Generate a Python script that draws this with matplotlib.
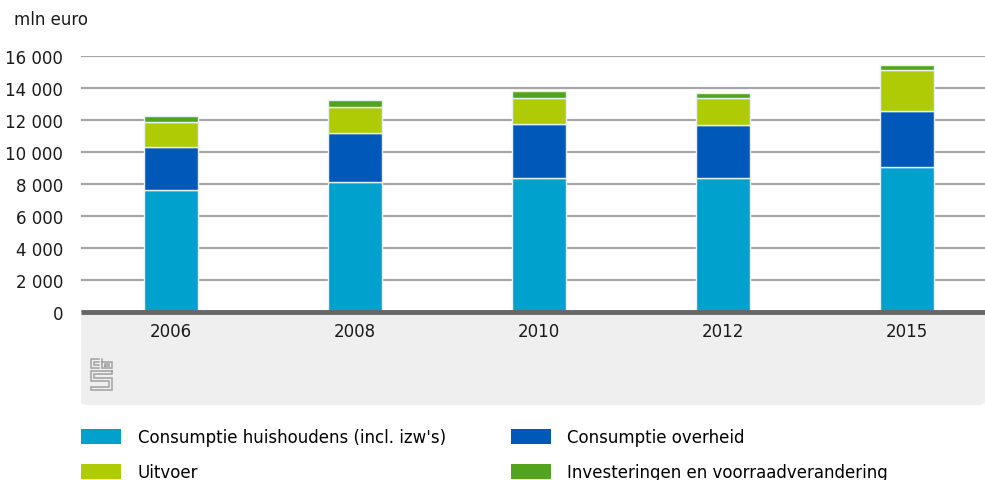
import numpy as np
import matplotlib
matplotlib.use("Agg")
import matplotlib.pyplot as plt
from matplotlib.patches import Patch, FancyBboxPatch
from matplotlib.ticker import FuncFormatter

years = ["2006", "2008", "2010", "2012", "2015"]
huishoudens = [7620, 8100, 8400, 8380, 9080]
overheid = [2710, 3070, 3330, 3290, 3480]
uitvoer = [1570, 1640, 1640, 1700, 2560]
investeringen = [370, 460, 460, 340, 340]

series = [
    ("Consumptie huishoudens (incl. izw's)", huishoudens, "#00a1cd"),
    ("Consumptie overheid", overheid, "#0058b8"),
    ("Uitvoer", uitvoer, "#afcb05"),
    ("Investeringen en voorraadverandering", investeringen, "#53a31d"),
]

W, H = 985, 481
plt.rcParams["font.family"] = ["DejaVu Sans"]

fig = plt.figure(figsize=(W / 100, H / 100), dpi=100)

# grey panel below the axis
panel = FancyBboxPatch((81 / W, (H - 406) / H), (W - 81) / W, 93 / H,
                       boxstyle="round,pad=0,rounding_size=0.008",
                       transform=fig.transFigure, facecolor="#efefef",
                       edgecolor="none", zorder=-5)
fig.patches.append(panel)

ax = fig.add_axes([81 / W, (H - 313) / H, (W - 81) / W, 256 / H])
ax.set_facecolor("none")

x = np.arange(len(years))
bottom = np.zeros(len(years))
for label, vals, color in series:
    ax.bar(x, vals, width=0.29, bottom=bottom, color=color,
           edgecolor="#e6f2f7", linewidth=1, label=label, zorder=3)
    bottom += np.array(vals)

ax.set_xlim(-0.489, 4.424)
ax.set_ylim(0, 16000)
ax.set_yticks(np.arange(0, 16001, 2000))
ax.yaxis.set_major_formatter(FuncFormatter(lambda v, p: f"{int(v):,}".replace(",", " ")))
ax.grid(axis="y", color="#a6a6a6", linewidth=1.6, zorder=1)
ax.set_axisbelow(True)
for s in ["top", "right", "left"]:
    ax.spines[s].set_visible(False)
ax.spines["bottom"].set_color("#666666")
ax.spines["bottom"].set_linewidth(3.5)
ax.spines["bottom"].set_capstyle("butt")
ax.spines["bottom"].set_zorder(4)

ax.set_xticks(x)
ax.set_xticklabels(years)
ax.tick_params(axis="x", length=0, pad=7, labelsize=12, colors="#1a1a1a")
ax.tick_params(axis="y", length=0, pad=13, labelsize=12, colors="#1a1a1a")

fig.text(14 / W, 1 - 20 / H, "mln euro", fontsize=12, va="center", color="#1a1a1a")

# simple cbs logo outline
logo = fig.add_axes([90 / W, (H - 393) / H, 24 / W, 34 / H])
logo.set_xlim(0, 24)
logo.set_ylim(0, 34)
logo.axis("off")
lc = "#a0a0a0"
kw = dict(color=lc, lw=1.1, solid_joinstyle="miter")
logo.plot([9, 1, 1, 9], [33, 33, 24, 24], **kw)
logo.plot([9, 4, 4, 9], [30, 30, 27, 27], **kw)
logo.plot([12, 12, 22, 22, 12], [33, 24, 24, 30, 30], **kw)
logo.plot([15, 19, 19, 15, 15], [26.5, 26.5, 28, 28, 26.5], **kw)
logo.plot([22, 1, 1, 19, 19, 1, 1, 22, 22, 4, 4, 22, 22], [21, 21, 11, 11, 5, 5, 2, 2, 14, 14, 18, 18, 21], **kw)

handles = [Patch(facecolor=c, edgecolor="none") for _, _, c in series]
labels = [l for l, _, _ in series]
order = [0, 2, 1, 3]
fig.legend([handles[i] for i in order], [labels[i] for i in order],
           loc="upper left", bbox_to_anchor=(81 / W, 1 - 429 / H), ncol=2,
           frameon=False, fontsize=12, handlelength=2.4, handleheight=1.0,
           handletextpad=1.0, columnspacing=3.9, labelspacing=1.03,
           borderaxespad=0, borderpad=0)

fig.savefig("out.png", dpi=100)
